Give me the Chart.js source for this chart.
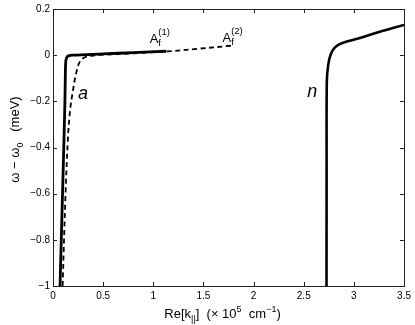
<!DOCTYPE html>
<html>
<head>
<meta charset="utf-8">
<script src="https://cdn.jsdelivr.net/npm/chart.js@4.4.0/dist/chart.umd.min.js"></script>
<style>
  html, body { margin: 0; padding: 0; background: #fff; }
</style>
</head>
<body>
<canvas id="chart" width="415" height="325"></canvas>
<script>
// branch a, solid curve
const aSolidK = [0.07, 0.095, 0.119, 0.124, 0.128, 0.136, 0.15, 0.2, 0.5, 0.8, 1.13];
const aSolidW = [-1, -0.6, -0.2, -0.06, -0.025, -0.011, -0.004, 0.0, 0.0055, 0.011, 0.017];
// branch a, dashed curve
const aDashK = [0.096, 0.125, 0.15, 0.17, 0.2, 0.23, 0.26, 0.3, 0.37, 0.47, 0.8, 1.13, 1.45, 1.78];
const aDashW = [-1, -0.6, -0.35, -0.24, -0.15, -0.08, -0.035, -0.013, -0.004, 0.001, 0.008, 0.016, 0.028, 0.041];
// branch n
const nK = [2.727, 2.728, 2.73, 2.744, 2.767, 2.803, 2.853, 2.92, 3.05, 3.25, 3.5];
const nW = [-1, -0.5, -0.115, -0.042, 0.001, 0.03, 0.047, 0.058, 0.073, 0.1, 0.131];

const xTickValues = [0, 0.5, 1, 1.5, 2, 2.5, 3, 3.5];
const yTickValues = [0.2, 0, -0.2, -0.4, -0.6, -0.8, -1];

// curve labels, anchored in data coords (left, baseline)
const branchLabels = [
  { text: "a", k: 0.25, w: -0.19 },
  { text: "n", k: 2.535, w: -0.181 },
];
const pointLabels = [
  { sup: "(1)", k: 0.964, w: 0.052 },
  { sup: "(2)", k: 1.69, w: 0.057 },
];

const FONT = "'Liberation Sans', Arial, Helvetica, sans-serif";

function pairs(xs, ys) {
  return xs.map((x, i) => ({ x, y: ys[i] }));
}

function fmt(v) {
  const s = String(+v.toFixed(2));
  return s.replace("-", "\u2212");
}

// draws a run of text pieces: [text, size, dy]
function drawRun(ctx, parts, x, y, align) {
  let total = 0;
  parts.forEach(([t, size]) => {
    ctx.font = `${size}px ${FONT}`;
    total += ctx.measureText(t).width;
  });
  let cx = align === "center" ? x - total / 2 : x;
  parts.forEach(([t, size, dy]) => {
    ctx.font = `${size}px ${FONT}`;
    ctx.fillText(t, cx, y + (dy || 0));
    cx += ctx.measureText(t).width;
  });
}

const framePlugin = {
  id: "frame",
  afterDraw(chart) {
    const { ctx, chartArea: a, scales } = chart;
    const xs = scales.x, ys = scales.y;
    ctx.save();
    ctx.strokeStyle = "#222";
    ctx.lineWidth = 1;
    ctx.strokeRect(Math.round(a.left) + 0.5, Math.round(a.top) + 0.5,
      Math.round(a.right - a.left), Math.round(a.bottom - a.top));

    const tl = 4;
    ctx.beginPath();
    xTickValues.forEach((v) => {
      const px = Math.round(xs.getPixelForValue(v)) + 0.5;
      ctx.moveTo(px, a.bottom); ctx.lineTo(px, a.bottom - tl);
      ctx.moveTo(px, a.top); ctx.lineTo(px, a.top + tl);
    });
    yTickValues.forEach((v) => {
      const py = Math.round(ys.getPixelForValue(v)) + 0.5;
      ctx.moveTo(a.left, py); ctx.lineTo(a.left + tl, py);
      ctx.moveTo(a.right, py); ctx.lineTo(a.right - tl, py);
    });
    ctx.stroke();

    ctx.fillStyle = "#000";
    ctx.textBaseline = "alphabetic";
    ctx.textAlign = "left";

    // x axis title
    drawRun(ctx, [
      ["Re[k", 13, 0], ["||", 9, 4], ["]  (\u00d7 10", 13, 0], ["5", 9, -6],
      ["  cm", 13, 0], ["\u22121", 9, -6], [")", 13, 0],
    ], (a.left + a.right) / 2 - 6, 318, "center");

    // y axis title
    ctx.save();
    ctx.translate(19, (a.top + a.bottom) / 2 - 8);
    ctx.rotate(-Math.PI / 2);
    drawRun(ctx, [
      ["\u03c9 \u2212 \u03c9", 13, 0], ["0", 9, 4], ["   (meV)", 13, 0],
    ], 0, 0, "center");
    ctx.restore();

    // curve letters
    ctx.font = `italic 18px ${FONT}`;
    branchLabels.forEach((l) => {
      ctx.fillText(l.text, xs.getPixelForValue(l.k), ys.getPixelForValue(l.w));
    });

    // A_f^(i) labels
    pointLabels.forEach((l) => {
      const px = xs.getPixelForValue(l.k), py = ys.getPixelForValue(l.w);
      ctx.font = `13px ${FONT}`;
      ctx.fillText("A", px, py);
      const w = ctx.measureText("A").width;
      ctx.font = `9.5px ${FONT}`;
      ctx.fillText(l.sup, px + w, py - 8);
      ctx.fillText("f", px + w, py + 3);
    });
    ctx.restore();
  },
};

new Chart(document.getElementById("chart"), {
  type: "scatter",
  data: {
    datasets: [
      {
        data: pairs(aDashK, aDashW),
        showLine: true,
        borderColor: "#000",
        borderWidth: 1.8,
        borderDash: [5, 3.5],
        pointRadius: 0,
        tension: 0.35,
      },
      {
        data: pairs(aSolidK, aSolidW),
        showLine: true,
        borderColor: "#000",
        borderWidth: 2.8,
        pointRadius: 0,
        tension: 0.35,
      },
      {
        data: pairs(nK, nW),
        showLine: true,
        borderColor: "#000",
        borderWidth: 2.6,
        pointRadius: 0,
        tension: 0.35,
      },
    ],
  },
  options: {
    responsive: false,
    animation: false,
    devicePixelRatio: 1,
    layout: { padding: { top: 9, right: 10, left: 0, bottom: 0 } },
    plugins: { legend: { display: false }, tooltip: { enabled: false } },
    scales: {
      x: {
        type: "linear",
        min: 0,
        max: 3.5,
        afterBuildTicks: (s) => { s.ticks = xTickValues.map((v) => ({ value: v })); },
        afterFit: (s) => { s.height = 39; },
        grid: { display: false, drawTicks: false },
        border: { display: false },
        ticks: {
          padding: 4,
          color: "#000",
          font: { family: FONT, size: 10 },
          maxRotation: 0,
          callback: (v) => fmt(v),
        },
      },
      y: {
        type: "linear",
        min: -1,
        max: 0.2,
        afterBuildTicks: (s) => { s.ticks = yTickValues.map((v) => ({ value: v })); },
        afterFit: (s) => { s.width = 53; },
        grid: { display: false, drawTicks: false },
        border: { display: false },
        ticks: {
          padding: 3,
          color: "#000",
          font: { family: FONT, size: 10 },
          callback: (v) => fmt(v),
        },
      },
    },
  },
  plugins: [framePlugin],
});
</script>
</body>
</html>
